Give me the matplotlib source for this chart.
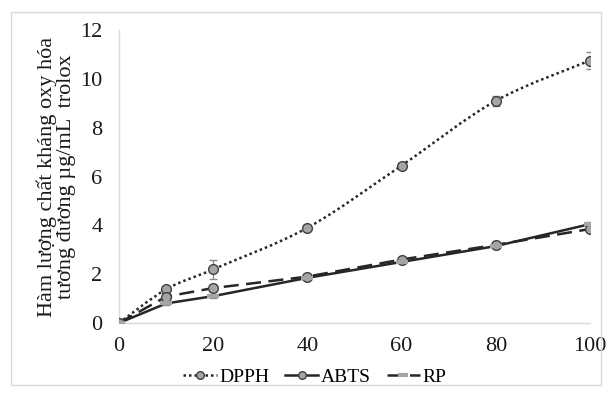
import numpy as np
import matplotlib
matplotlib.use("Agg")
import matplotlib.pyplot as plt
from matplotlib.path import Path
from matplotlib.patches import PathPatch, Rectangle
from matplotlib.lines import Line2D

plt.rcParams['font.family'] = ['Liberation Serif', 'DejaVu Serif']

x = [0, 10, 20, 40, 60, 80, 100]
dpph = [0, 1.38, 2.2, 3.9, 6.45, 9.1, 10.75]
dpph_err = [0, 0.15, 0.4, 0.1, 0.1, 0.2, 0.35]
abts = [0, 1.08, 1.43, 1.9, 2.6, 3.2, 3.85]
abts_err = [0, 0.1, 0.12, 0.08, 0.08, 0.08, 0.1]
rp = [0, 0.8, 1.1, 1.85, 2.5, 3.15, 4.05]
rp_err = [0, 0.08, 0.08, 0.06, 0.06, 0.06, 0.08]
xticks = [0, 20, 40, 60, 80, 100]
yticks = [0, 2, 4, 6, 8, 10, 12]
ylabel = "Hàm lượng chất kháng oxy hóa\ntương đương µg/mL  trolox"
labels = ["DPPH", "ABTS", "RP"]

fig = plt.figure(figsize=(6.1, 3.96), dpi=100)
ax = fig.add_axes([119/610, 1-323/396, (590-119)/610, (323-30)/396])

def smooth_path(xs, ys, t=1/6):
    xs = np.asarray(xs, float); ys = np.asarray(ys, float)
    verts = [(xs[0], ys[0])]; codes = [Path.MOVETO]
    n = len(xs)
    for i in range(n-1):
        p0 = np.array([xs[max(i-1,0)], ys[max(i-1,0)]])
        p1 = np.array([xs[i], ys[i]])
        p2 = np.array([xs[i+1], ys[i+1]])
        p3 = np.array([xs[min(i+2,n-1)], ys[min(i+2,n-1)]])
        c1 = p1 + (p2 - p0) * t
        c2 = p2 - (p3 - p1) * t
        verts += [tuple(c1), tuple(c2), tuple(p2)]
        codes += [Path.CURVE4]*3
    return Path(verts, codes)

mfc = '#a5a5a5'
ec = '#404040'
errc = '#8c8c8c'
fs = 16

# DPPH smoothed dotted
ax.add_patch(PathPatch(smooth_path(x, dpph), fill=False, ls=(0, (1, 1.2)), lw=1.8, color='#262626', zorder=2))
ax.errorbar(x, dpph, yerr=dpph_err, fmt='none', ecolor=errc, elinewidth=1, capsize=3, zorder=3)
ax.plot(x, dpph, ls='none', marker='o', ms=7, mfc=mfc, mec=ec, mew=1, zorder=4)

# dashed with circles
ax.plot(x, abts, ls=(0, (6, 3)), lw=1.8, color='#262626', zorder=2)
ax.errorbar(x, abts, yerr=abts_err, fmt='none', ecolor=errc, elinewidth=1, capsize=3, zorder=3)
ax.plot(x, abts, ls='none', marker='o', ms=7, mfc=mfc, mec=ec, mew=1, zorder=4)

# solid with gray dash markers
ax.plot(x, rp, ls='-', lw=1.8, color='#262626', zorder=2)
ax.errorbar(x, rp, yerr=rp_err, fmt='none', ecolor=errc, elinewidth=1, capsize=3, zorder=3)
ax.plot(x, rp, ls='none', marker='_', ms=8, mew=3, mec='#a5a5a5', zorder=4)

ax.set_xlim(0, 100)
ax.set_ylim(0, 12)
ax.set_xticks(xticks)
ax.set_yticks(yticks)
ax.tick_params(axis='y', length=0, labelsize=fs, colors='#1a1a1a', pad=12)
ax.tick_params(axis='x', length=0, labelsize=fs, colors='#1a1a1a', pad=10)
for s in ['top', 'right']:
    ax.spines[s].set_visible(False)
for s in ['left', 'bottom']:
    ax.spines[s].set_color('#d9d9d9')
    ax.spines[s].set_linewidth(1)
ax.set_ylabel(ylabel, fontsize=fs, color='#1a1a1a', labelpad=3, linespacing=1.0)
ax.patch.set_alpha(0)

handles = [
    Line2D([], [], ls=(0, (1, 1.2)), lw=1.8, color='#262626', marker='o', ms=5.5, mfc=mfc, mec=ec),
    Line2D([], [], ls='-', lw=1.8, color='#262626', marker='o', ms=5.5, mfc=mfc, mec=ec),
    Line2D([], [], ls=(0, (6, 3)), lw=1.8, color='#262626', marker='_', ms=7, mew=3, mec='#a5a5a5'),
]
fig.legend(handles, labels, loc='center', bbox_to_anchor=(315/610, 1-377/396), ncol=3,
           frameon=False, fontsize=14, handlelength=1.7, handletextpad=0.15, columnspacing=0.8,
           borderpad=0, borderaxespad=0)

fig.add_artist(Rectangle((11/610, 1-385/396), (601-11)/610, (385-12)/396, transform=fig.transFigure,
                         fill=False, ec='#d9d9d9', lw=1))

fig.savefig("out.png", dpi=100)
